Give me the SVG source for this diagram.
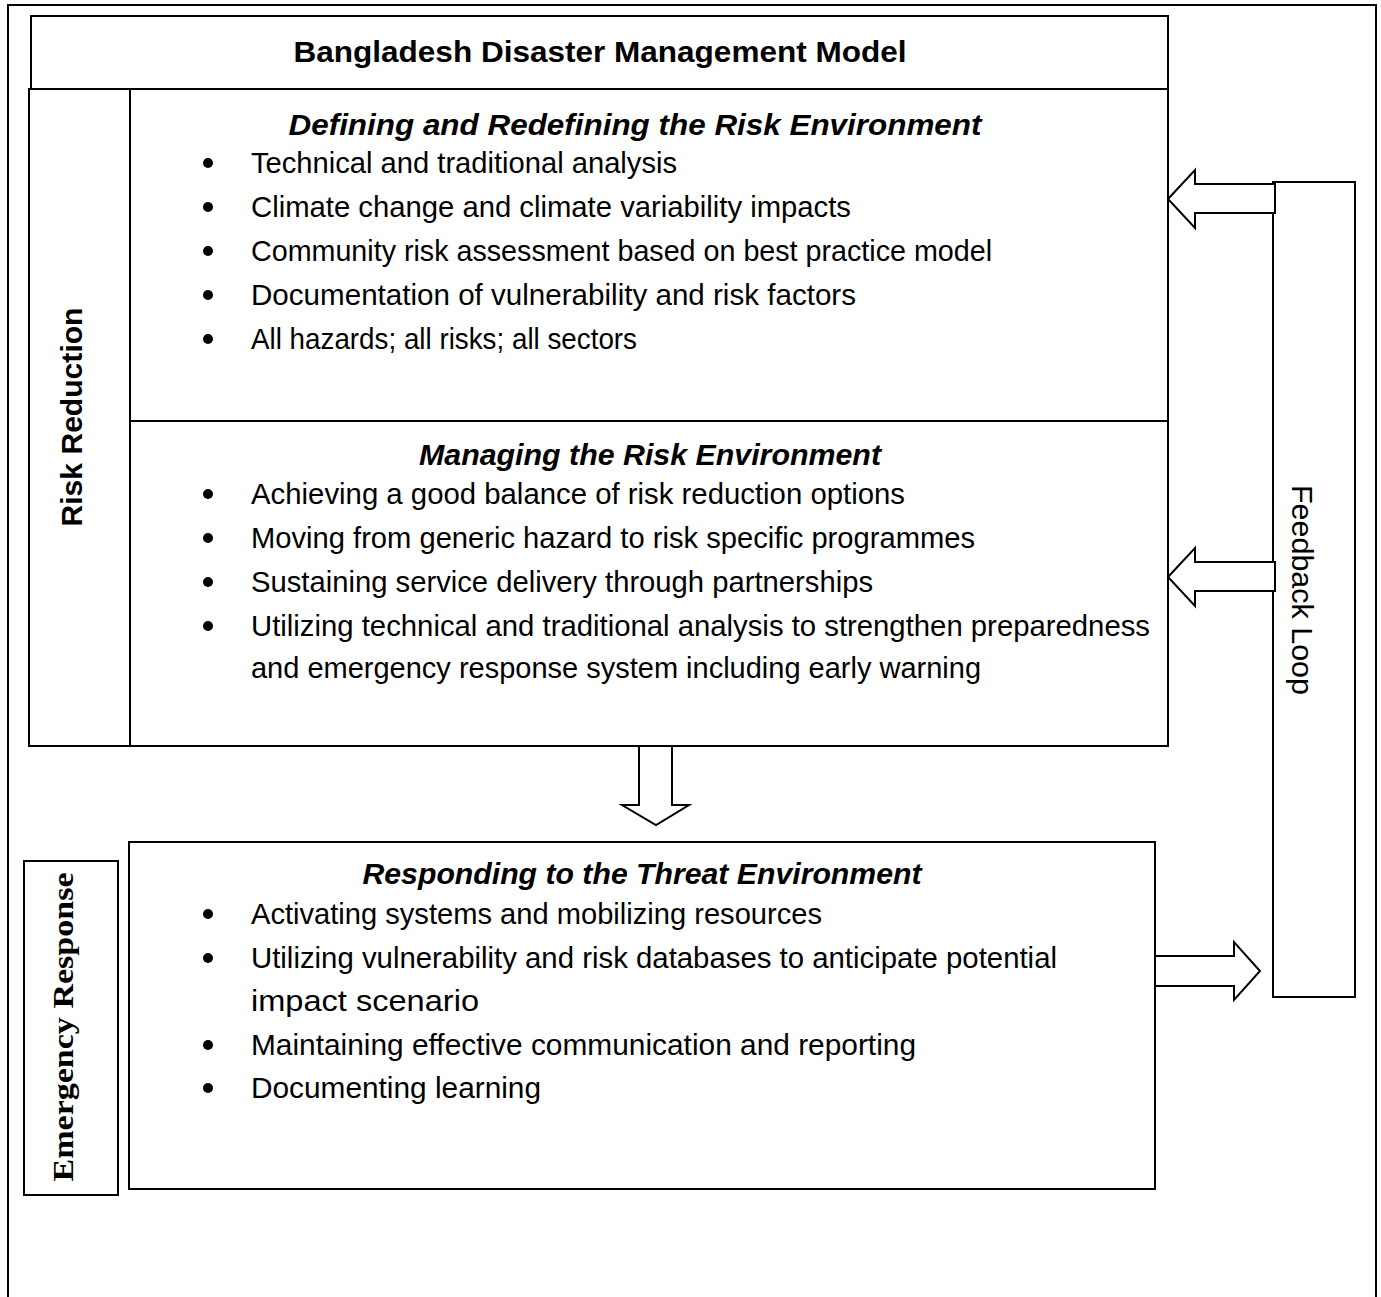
<svg xmlns="http://www.w3.org/2000/svg" width="1381" height="1297" viewBox="0 0 1381 1297">
<style>
.box{fill:#fff;stroke:#000;stroke-width:2}
.ln{stroke:#000;stroke-width:2;fill:none}
.arr{fill:#fff;stroke:#000;stroke-width:2;stroke-linejoin:miter}
.t{font-family:"Liberation Sans",Arial,sans-serif;font-size:30px;fill:#000}
.h{font-family:"Liberation Sans",Arial,sans-serif;font-size:30px;font-weight:bold;font-style:italic;fill:#000;text-anchor:middle}
.b{font-family:"Liberation Sans",Arial,sans-serif;font-size:30px;font-weight:bold;fill:#000}
.er{font-family:"Liberation Serif","Times New Roman",serif;font-size:30px;font-weight:bold;fill:#000}
.dot{fill:#000}
</style>
<rect x="0" y="0" width="1381" height="1297" fill="#fff"/>
<g id="frame"><rect class="box" x="8" y="5" width="1368" height="1310"/></g>
<g id="title">
<rect class="box" x="31" y="16" width="1137" height="73"/>
<text class="b" x="600" y="62" text-anchor="middle" textLength="613" lengthAdjust="spacingAndGlyphs">Bangladesh Disaster Management Model</text>
</g>
<g id="risk-reduction">
<rect class="box" x="29" y="89" width="1139" height="657"/>
<line class="ln" x1="130" y1="89" x2="130" y2="746"/>
<line class="ln" x1="130" y1="421" x2="1168" y2="421"/>
<text class="b" transform="translate(82,417) rotate(-90)" text-anchor="middle" textLength="219" lengthAdjust="spacingAndGlyphs">Risk Reduction</text>
</g>
<g id="defining">
<text class="h" x="635" y="135" textLength="693" lengthAdjust="spacingAndGlyphs">Defining and Redefining the Risk Environment</text>
<circle class="dot" cx="208" cy="163" r="5"/>
<text class="t" x="251" y="173" textLength="426" lengthAdjust="spacingAndGlyphs">Technical and traditional analysis</text>
<circle class="dot" cx="208" cy="207" r="5"/>
<text class="t" x="251" y="217" textLength="600" lengthAdjust="spacingAndGlyphs">Climate change and climate variability impacts</text>
<circle class="dot" cx="208" cy="251" r="5"/>
<text class="t" x="251" y="261" textLength="741" lengthAdjust="spacingAndGlyphs">Community risk assessment based on best practice model</text>
<circle class="dot" cx="208" cy="295" r="5"/>
<text class="t" x="251" y="305" textLength="605" lengthAdjust="spacingAndGlyphs">Documentation of vulnerability and risk factors</text>
<circle class="dot" cx="208" cy="339" r="5"/>
<text class="t" x="251" y="349" textLength="386" lengthAdjust="spacingAndGlyphs">All hazards; all risks; all sectors</text>
</g>
<g id="managing">
<text class="h" x="650" y="465" textLength="462" lengthAdjust="spacingAndGlyphs">Managing the Risk Environment</text>
<circle class="dot" cx="208" cy="494" r="5"/>
<text class="t" x="251" y="504" textLength="654" lengthAdjust="spacingAndGlyphs">Achieving a good balance of risk reduction options</text>
<circle class="dot" cx="208" cy="538" r="5"/>
<text class="t" x="251" y="548" textLength="724" lengthAdjust="spacingAndGlyphs">Moving from generic hazard to risk specific programmes</text>
<circle class="dot" cx="208" cy="582" r="5"/>
<text class="t" x="251" y="592" textLength="622" lengthAdjust="spacingAndGlyphs">Sustaining service delivery through partnerships</text>
<circle class="dot" cx="208" cy="626" r="5"/>
<text class="t" x="251" y="636" textLength="899" lengthAdjust="spacingAndGlyphs">Utilizing technical and traditional analysis to strengthen preparedness</text>
<text class="t" x="251" y="678" textLength="730" lengthAdjust="spacingAndGlyphs">and emergency response system including early warning</text>
</g>
<g id="emergency-response">
<rect class="box" x="24" y="861" width="94" height="334"/>
<text class="er" transform="translate(73,1027) rotate(-90)" text-anchor="middle" textLength="309" lengthAdjust="spacingAndGlyphs">Emergency Response</text>
</g>
<g id="responding">
<rect class="box" x="129" y="842" width="1026" height="347"/>
<text class="h" x="642" y="884" textLength="559" lengthAdjust="spacingAndGlyphs">Responding to the Threat Environment</text>
<circle class="dot" cx="208" cy="914" r="5"/>
<text class="t" x="251" y="924" textLength="571" lengthAdjust="spacingAndGlyphs">Activating systems and mobilizing resources</text>
<circle class="dot" cx="208" cy="958" r="5"/>
<text class="t" x="251" y="968" textLength="806" lengthAdjust="spacingAndGlyphs">Utilizing vulnerability and risk databases to anticipate potential</text>
<text class="t" x="251" y="1011" textLength="228" lengthAdjust="spacingAndGlyphs">impact scenario</text>
<circle class="dot" cx="208" cy="1045" r="5"/>
<text class="t" x="251" y="1055" textLength="665" lengthAdjust="spacingAndGlyphs">Maintaining effective communication and reporting</text>
<circle class="dot" cx="208" cy="1088" r="5"/>
<text class="t" x="251" y="1098" textLength="290" lengthAdjust="spacingAndGlyphs">Documenting learning</text>
</g>
<g id="feedback-loop">
<rect class="box" x="1273" y="182" width="82" height="815"/>
<text class="t" transform="translate(1292,590) rotate(90)" text-anchor="middle" textLength="210" lengthAdjust="spacingAndGlyphs">Feedback Loop</text>
</g>
<g id="connectors">
<polygon class="arr" points="1168,199 1195,170 1195,184 1275,184 1275,213 1195,213 1195,228"/>
<polygon class="arr" points="1168,577 1195,548 1195,562 1275,562 1275,591 1195,591 1195,606"/>
<polygon class="arr" points="639,746 672,746 672,805 689,805 656,825 622,805 639,805"/>
<polygon class="arr" points="1155,956 1234,956 1234,942 1260,971 1234,1000 1234,986 1155,986"/>
</g>
</svg>
